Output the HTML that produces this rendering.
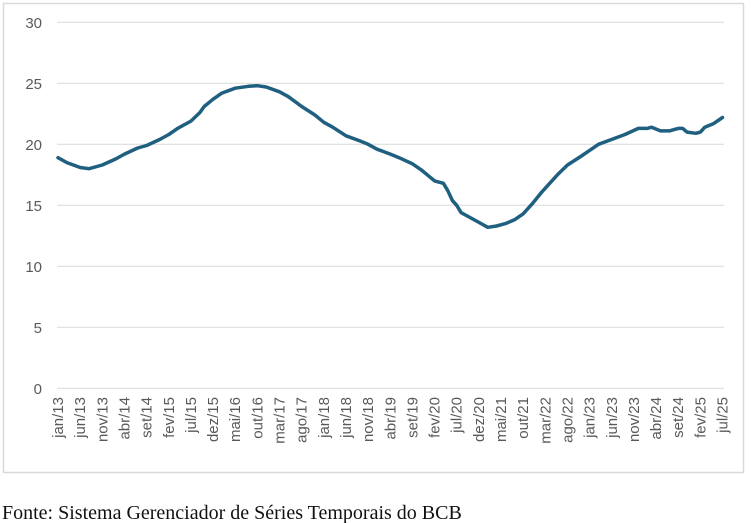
<!DOCTYPE html>
<html><head><meta charset="utf-8"><style>
body{margin:0;background:#fff;width:751px;height:523px;overflow:hidden}
svg{display:block}
</style></head><body>
<svg width="751" height="523" xmlns="http://www.w3.org/2000/svg">
<rect x="3.5" y="3.5" width="740" height="469" fill="#fff" stroke="#d9d9d9" stroke-width="1.5"/>
<g stroke="#d9d9d9" stroke-width="1">
<line x1="57" x2="724" y1="22.3" y2="22.3"/>
<line x1="57" x2="724" y1="83.3" y2="83.3"/>
<line x1="57" x2="724" y1="144.3" y2="144.3"/>
<line x1="57" x2="724" y1="205.3" y2="205.3"/>
<line x1="57" x2="724" y1="266.3" y2="266.3"/>
<line x1="57" x2="724" y1="327.3" y2="327.3"/>
<line x1="57" x2="724" y1="388.3" y2="388.3"/>
</g>
<g font-family="Liberation Sans, sans-serif" font-size="15" fill="#595959" text-anchor="end">
<text x="42" y="28">30</text><text x="42" y="89">25</text><text x="42" y="150">20</text>
<text x="42" y="211">15</text><text x="42" y="272">10</text><text x="42" y="333">5</text><text x="42" y="394">0</text>
</g>
<g font-family="Liberation Sans, sans-serif" font-size="15" fill="#595959" text-anchor="end">
<text transform="translate(63,397) rotate(-90)">jan/13</text>
<text transform="translate(85.15,397) rotate(-90)">jun/13</text>
<text transform="translate(107.3,397) rotate(-90)">nov/13</text>
<text transform="translate(129.45,397) rotate(-90)">abr/14</text>
<text transform="translate(151.6,397) rotate(-90)">set/14</text>
<text transform="translate(173.75,397) rotate(-90)">fev/15</text>
<text transform="translate(195.9,397) rotate(-90)">jul/15</text>
<text transform="translate(218.05,397) rotate(-90)">dez/15</text>
<text transform="translate(240.2,397) rotate(-90)">mai/16</text>
<text transform="translate(262.35,397) rotate(-90)">out/16</text>
<text transform="translate(284.5,397) rotate(-90)">mar/17</text>
<text transform="translate(306.65,397) rotate(-90)">ago/17</text>
<text transform="translate(328.8,397) rotate(-90)">jan/18</text>
<text transform="translate(350.95,397) rotate(-90)">jun/18</text>
<text transform="translate(373.1,397) rotate(-90)">nov/18</text>
<text transform="translate(395.25,397) rotate(-90)">abr/19</text>
<text transform="translate(417.4,397) rotate(-90)">set/19</text>
<text transform="translate(439.55,397) rotate(-90)">fev/20</text>
<text transform="translate(461.7,397) rotate(-90)">jul/20</text>
<text transform="translate(483.85,397) rotate(-90)">dez/20</text>
<text transform="translate(506,397) rotate(-90)">mai/21</text>
<text transform="translate(528.15,397) rotate(-90)">out/21</text>
<text transform="translate(550.3,397) rotate(-90)">mar/22</text>
<text transform="translate(572.45,397) rotate(-90)">ago/22</text>
<text transform="translate(594.6,397) rotate(-90)">jan/23</text>
<text transform="translate(616.75,397) rotate(-90)">jun/23</text>
<text transform="translate(638.9,397) rotate(-90)">nov/23</text>
<text transform="translate(661.05,397) rotate(-90)">abr/24</text>
<text transform="translate(683.2,397) rotate(-90)">set/24</text>
<text transform="translate(705.35,397) rotate(-90)">fev/25</text>
<text transform="translate(727.5,397) rotate(-90)">jul/25</text>
</g>
<path fill="none" stroke="#1f5f7f" stroke-width="3.5" stroke-linejoin="round" stroke-linecap="round" d="M58 157.7 L66.9 162.6 L80.2 167.5 L89 168.7 L102.3 165 L115.6 159 L124.5 154.1 L137.7 148 L146.6 145.5 L159.9 139.4 L168.8 134.5 L177.6 128.4 L190.9 121.1 L199.8 112.6 L204.2 106.5 L213.1 99.2 L221.9 93.1 L235.2 88.2 L248.5 86.3 L257.4 85.7 L266.2 87 L279.5 91.8 L288.4 96.7 L301.7 106.5 L314.9 115 L323.8 122.3 L332.7 127.2 L346 135.8 L359.2 140.6 L368.1 144.3 L377 149.2 L390.3 154.1 L399.1 157.7 L412.4 163.8 L421.3 169.9 L430.1 177.2 L434.6 180.9 L443.4 183.3 L447.8 190.7 L452.3 200.4 L456.7 205.3 L461.1 212.6 L470 217.5 L478.9 222.4 L487.7 227.3 L496.6 226 L505.4 223.6 L514.3 219.9 L523.2 213.8 L532 204.1 L540.9 193.1 L549.7 183.3 L558.6 173.6 L567.5 165 L580.7 156.5 L589.6 150.4 L598.5 144.3 L611.8 139.4 L625 134.5 L638.3 128.4 L647.2 128.4 L651.6 127.2 L660.5 130.9 L669.3 130.9 L678.2 128.4 L682.6 128.4 L687.1 132.1 L695.9 133.3 L700.4 132.1 L704.8 127.2 L713.6 123.6 L722.5 117.5"/>
<text x="2" y="519" font-family="Liberation Serif, serif" font-size="20" fill="#111">Fonte: Sistema Gerenciador de Séries Temporais do BCB</text>
</svg>
</body></html>
